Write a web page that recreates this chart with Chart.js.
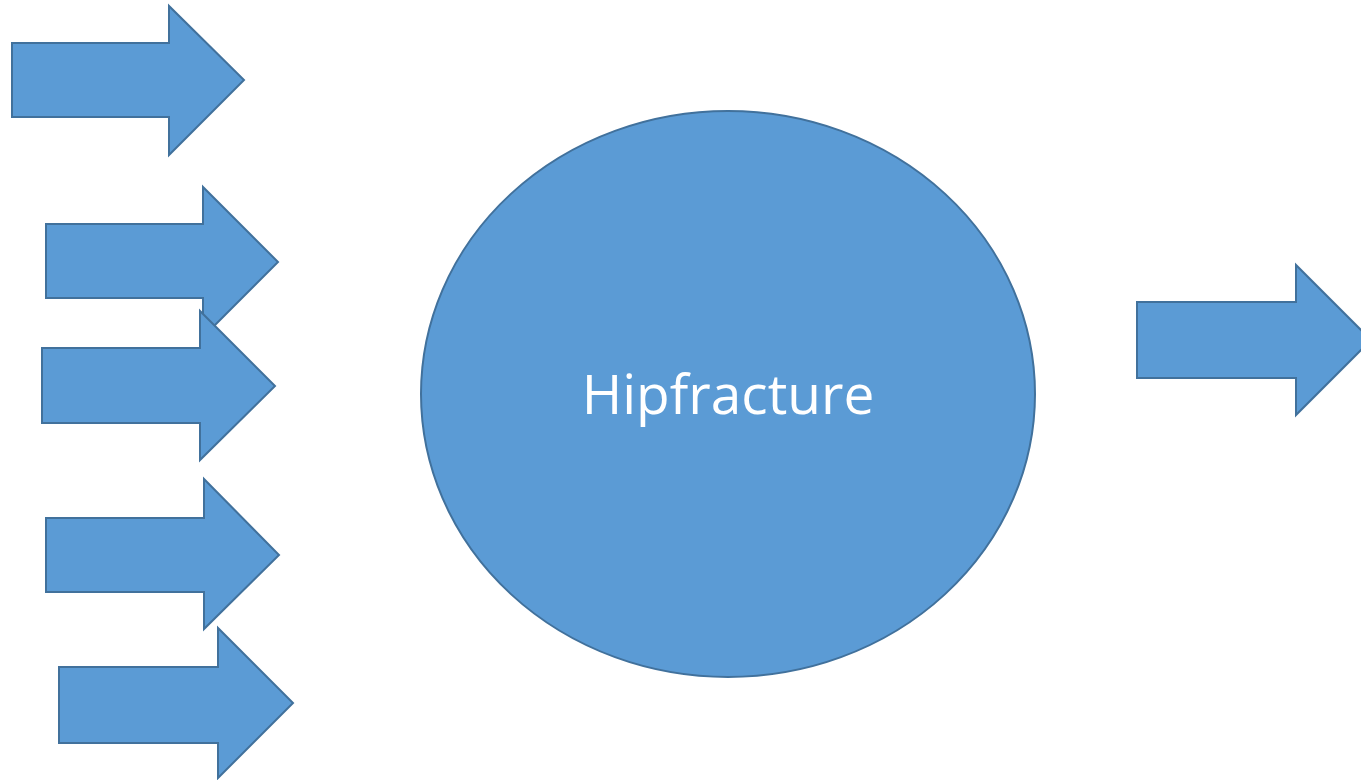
<!DOCTYPE html>
<html>
<head>
<meta charset="utf-8">
<script src="https://cdn.jsdelivr.net/npm/chart.js@4/dist/chart.umd.min.js"></script>
<style>
  html, body { margin: 0; padding: 0; background: #fff; }
  #wrap { width: 1361px; height: 780px; }
</style>
</head>
<body>
<div id="wrap"><canvas id="diagram"></canvas></div>
<script>
// arrows, top to bottom (left column), then the outgoing one on the right
const tailX      = [12, 46, 42, 46, 59, 1137];
const bodyTop    = [43, 224, 348, 518, 667, 302];
const bodyBottom = [117, 298, 423, 592, 743, 378];
const headX      = [169, 203, 200, 204, 218, 1296];
const headTop    = [6, 187, 311, 479, 628, 265];
const headBottom = [155, 337, 460, 629, 778, 415];
const tipX       = [244, 278, 275, 279, 293, 1371];
const tipY       = [80, 262, 386, 555, 703, 340];

// the central ellipse
const ellipseCenter = [728, 394];
const ellipseRadius = [307, 283];
const ellipseLabel = ['Hipfracture'];

const fillColor = '#5B9BD5';
const edgeColor = '#41719C';

let datasets = [];
for (let i = 0; i < tailX.length; i++) {
    // start and end halfway down the tail edge so the outline closes without a corner stub
    let midTail = (bodyTop[i] + bodyBottom[i]) / 2;
    let pts = [
        { x: tailX[i], y: midTail },
        { x: tailX[i], y: bodyTop[i] },
        { x: headX[i], y: bodyTop[i] },
        { x: headX[i], y: headTop[i] },
        { x: tipX[i], y: tipY[i] },
        { x: headX[i], y: headBottom[i] },
        { x: headX[i], y: bodyBottom[i] },
        { x: tailX[i], y: bodyBottom[i] },
        { x: tailX[i], y: midTail }
    ];
    datasets.push({
        type: 'line',
        label: 'arrow ' + (i + 1),
        data: pts,
        fill: 'shape',
        backgroundColor: fillColor,
        borderColor: edgeColor,
        borderWidth: 2,
        borderJoinStyle: 'miter',
        pointRadius: 0,
        tension: 0,
        order: tailX.length - i
    });
}

const ellipsePlugin = {
    id: 'ellipse',
    beforeDatasetsDraw(chart) {
        const ctx = chart.ctx;
        const xs = chart.scales.x, ys = chart.scales.y;
        const cx = xs.getPixelForValue(ellipseCenter[0]);
        const cy = ys.getPixelForValue(ellipseCenter[1]);
        const rx = Math.abs(xs.getPixelForValue(ellipseCenter[0] + ellipseRadius[0]) - cx);
        const ry = Math.abs(ys.getPixelForValue(ellipseCenter[1] + ellipseRadius[1]) - cy);
        ctx.save();
        ctx.beginPath();
        ctx.ellipse(cx, cy, rx, ry, 0, 0, Math.PI * 2);
        ctx.fillStyle = fillColor;
        ctx.fill();
        ctx.lineWidth = 2;
        ctx.strokeStyle = edgeColor;
        ctx.stroke();
        ctx.fillStyle = '#fff';
        ctx.font = '55px "Open Sans"';
        ctx.textAlign = 'center';
        ctx.textBaseline = 'alphabetic';
        ctx.fillText(ellipseLabel[0], cx, cy + 20);
        ctx.restore();
    }
};

const ctx = document.getElementById('diagram').getContext('2d');
const chart = new Chart(ctx, {
    type: 'scatter',
    data: { datasets: datasets },
    options: {
        responsive: true,
        maintainAspectRatio: false,
        animation: false,
        layout: { padding: 0 },
        plugins: { legend: { display: false }, tooltip: { enabled: false } },
        scales: {
            x: { type: 'linear', min: 0, max: 1361, display: false },
            y: { type: 'linear', min: 0, max: 780, reverse: true, display: false }
        }
    },
    plugins: [ellipsePlugin]
});
</script>
</body>
</html>
